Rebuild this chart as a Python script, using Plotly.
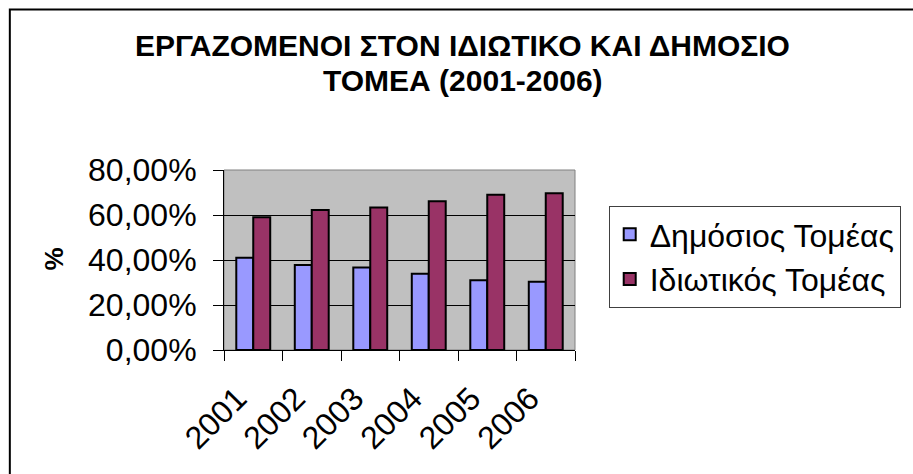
import plotly.graph_objects as go

years = ["2001", "2002", "2003", "2004", "2005", "2006"]
public_sector = [0.41, 0.378, 0.367, 0.339, 0.31, 0.303]
private_sector = [0.59, 0.622, 0.633, 0.661, 0.69, 0.697]
series_names = ["Δημόσιος Τομέας", "Ιδιωτικός Τομέας"]
y_ticks = [0, 0.2, 0.4, 0.6, 0.8]
title_lines = ["ΕΡΓΑΖΟΜΕΝΟΙ ΣΤΟΝ ΙΔΙΩΤΙΚΟ ΚΑΙ ΔΗΜΟΣΙΟ", "ΤΟΜΕΑ (2001-2006)"]

FONT = "Liberation Sans, Arial, sans-serif"

fig = go.Figure()
fig.add_trace(go.Bar(x=years, y=public_sector, name=series_names[0],
                     marker=dict(color="#9999FF", line=dict(color="black", width=2))))
fig.add_trace(go.Bar(x=years, y=private_sector, name=series_names[1],
                     marker=dict(color="#993366", line=dict(color="black", width=2))))

W, H = 913, 474
L, R, T, B = 224, W - 578, 170, H - 350
pw, ph = W - L - R, H - T - B

def px(x):
    return (x - L) / pw

def py(y):
    return (350 - y) / ph

fig.update_layout(
    width=W, height=H,
    margin=dict(l=L, r=R, t=T, b=B, pad=0),
    paper_bgcolor="white",
    plot_bgcolor="#C0C0C0",
    separators=",.",
    barmode="group",
    bargap=0.42,
    bargroupgap=0,
    font=dict(family=FONT, color="black", size=32),
    legend=dict(
        x=px(612), y=py(206), xanchor="left", yanchor="top",
        bgcolor="white", bordercolor="#404040", borderwidth=1,
        font=dict(family=FONT, size=32, color="black"),
        tracegroupgap=0,
    ),
    showlegend=True,
)

for i, line in enumerate(title_lines):
    fig.add_annotation(text="<b>" + line + "</b>", xref="paper", yref="paper",
                       x=px(465), y=py(45 + 35 * i), xanchor="center", yanchor="middle",
                       showarrow=False, font=dict(family=FONT, size=30, color="black"))

fig.add_annotation(text="<b>%</b>", xref="paper", yref="paper",
                   x=px(53), y=py(259), xanchor="center", yanchor="middle",
                   textangle=-90, showarrow=False,
                   font=dict(family=FONT, size=26, color="black"))

fig.update_xaxes(
    type="category",
    showline=True, linecolor="black", linewidth=1,
    ticks="outside", tickson="boundaries", ticklen=10, tickcolor="black",
    tickangle=-45, tickfont=dict(size=32),
    ticklabelstandoff=16, ticklabelshift=-16,
    showgrid=False,
)
fig.update_yaxes(
    range=[0, 0.8], tickvals=y_ticks, tickformat=".2%",
    showline=True, linecolor="black", linewidth=1,
    ticks="outside", ticklen=10, tickcolor="black",
    tickfont=dict(size=32), ticklabelstandoff=10,
    showgrid=True, gridcolor="black", gridwidth=1,
    zeroline=False,
)

# plot area frame (top/right) in grey
fig.add_shape(type="rect", xref="paper", yref="paper", x0=0, y0=0, x1=1, y1=1,
              line=dict(color="#808080", width=1), layer="below")
# outer chart border (only top and left visible in the reference)
fig.add_shape(type="rect", xref="paper", yref="paper",
              x0=px(8), y0=py(520), x1=px(960), y1=py(9.5),
              line=dict(color="black", width=2))

fig.write_html("out.html", config={"displayModeBar": False},
               post_script="document.body.style.margin='0';document.body.style.overflow='hidden';")
